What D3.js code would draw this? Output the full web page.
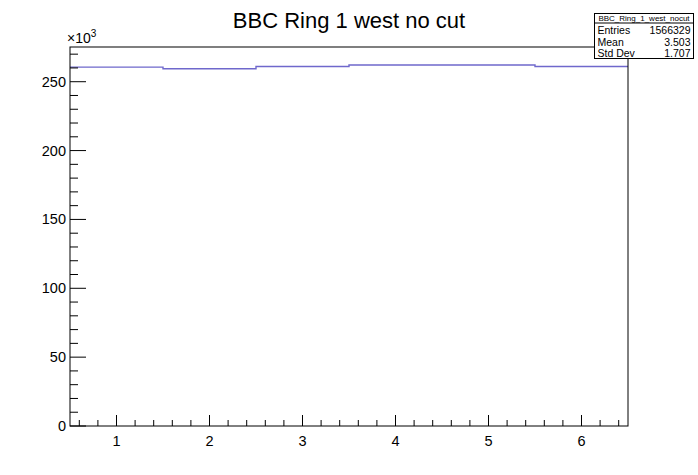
<!DOCTYPE html>
<html>
<head>
<meta charset="utf-8">
<script src="https://cdn.jsdelivr.net/npm/d3@7"></script>
<style>
  body { margin: 0; background: #fff; }
  text { font-family: "Liberation Sans", Arial, Helvetica, sans-serif; }
</style>
</head>
<body>
<div id="chart"></div>
<script>
// bin centres and contents (in units of 10^3)
var binCenters = [1, 2, 3, 4, 5, 6];
var binCounts = [260.6, 259.4, 261.1, 262.1, 262.1, 261.1];
var xTicks = [1, 2, 3, 4, 5, 6];
var yTicks = [0, 50, 100, 150, 200, 250];
var statsLabels = ["Entries", "Mean", "Std Dev"];
var statsValues = ["1566329", "3.503", "1.707"];

var svgWidth = 698;
var svgHeight = 475;

var margin = { top: 47, right: 70, bottom: 49, left: 70 };
var width = svgWidth - margin.left - margin.right;
var height = svgHeight - margin.top - margin.bottom;

var svg = d3.select("#chart")
  .append("svg")
  .attr("width", svgWidth)
  .attr("height", svgHeight);

var chartGroup = svg.append("g")
  .attr("transform", `translate(${margin.left}, ${margin.top})`);

var xScale = d3.scaleLinear().domain([0.5, 6.5]).range([0, width]);
var yMax = d3.max(binCounts) * 1.05;
var yScale = d3.scaleLinear().domain([0, yMax]).range([height, 0]);

// histogram step line
var steps = [];
binCenters.forEach(function(c, i) {
  steps.push([c - 0.5, binCounts[i]]);
  steps.push([c + 0.5, binCounts[i]]);
});
chartGroup.append("path")
  .datum(steps)
  .attr("fill", "none")
  .attr("stroke", "#6f68cc")
  .attr("stroke-width", 1.4)
  .attr("d", d3.line().x(d => xScale(d[0])).y(d => yScale(d[1])));

// frame
chartGroup.append("rect")
  .attr("width", width)
  .attr("height", height)
  .attr("fill", "none")
  .attr("stroke", "#000")
  .attr("stroke-width", 1);

// x ticks (ROOT style, inside frame)
var xMinor = d3.range(0.6, 6.5, 0.2).map(v => Math.round(v * 10) / 10);
chartGroup.append("g").selectAll("line")
  .data(xMinor)
  .enter().append("line")
  .attr("x1", d => xScale(d)).attr("x2", d => xScale(d))
  .attr("y1", height)
  .attr("y2", d => xTicks.indexOf(d) >= 0 ? height - 11 : height - 6)
  .attr("stroke", "#000");

chartGroup.append("g").selectAll("text")
  .data(xTicks)
  .enter().append("text")
  .attr("x", d => xScale(d))
  .attr("y", height + 20)
  .attr("text-anchor", "middle")
  .style("font-size", "14.5px")
  .text(d => d);

// y ticks
var yMinor = d3.range(0, yMax, 10);
chartGroup.append("g").selectAll("line")
  .data(yMinor)
  .enter().append("line")
  .attr("y1", d => yScale(d)).attr("y2", d => yScale(d))
  .attr("x1", 0)
  .attr("x2", d => d % 50 === 0 ? 16 : 8)
  .attr("stroke", "#000");

chartGroup.append("g").selectAll("text")
  .data(yTicks)
  .enter().append("text")
  .attr("x", -4)
  .attr("y", d => yScale(d) + 5)
  .attr("text-anchor", "end")
  .style("font-size", "14.5px")
  .text(d => d);

// exponent label
var expo = chartGroup.append("text")
  .attr("x", -3)
  .attr("y", -4)
  .style("font-size", "14px");
expo.append("tspan").text("\u00d710");
expo.append("tspan").attr("dy", -6).style("font-size", "10px").text("3");

// title
svg.append("text")
  .attr("x", 349)
  .attr("y", 28)
  .attr("text-anchor", "middle")
  .style("font-size", "22px")
  .text("BBC Ring 1 west no cut");

// stats box
var box = svg.append("g").attr("transform", "translate(594.5, 13.5)");
box.append("rect")
  .attr("width", 99)
  .attr("height", 45)
  .attr("fill", "#fff")
  .attr("stroke", "#000");
box.append("line")
  .attr("x1", 0).attr("x2", 99)
  .attr("y1", 9.5).attr("y2", 9.5)
  .attr("stroke", "#000");
box.append("text")
  .attr("x", 49.5).attr("y", 7.5)
  .attr("text-anchor", "middle")
  .style("font-size", "8px")
  .text("BBC_Ring_1_west_nocut");
statsLabels.forEach(function(lab, i) {
  box.append("text")
    .attr("x", 3).attr("y", 20.5 + i * 11.5)
    .style("font-size", "10.5px")
    .text(lab);
  box.append("text")
    .attr("x", 96).attr("y", 20.5 + i * 11.5)
    .attr("text-anchor", "end")
    .style("font-size", "10.5px")
    .text(statsValues[i]);
});
</script>
</body>
</html>
